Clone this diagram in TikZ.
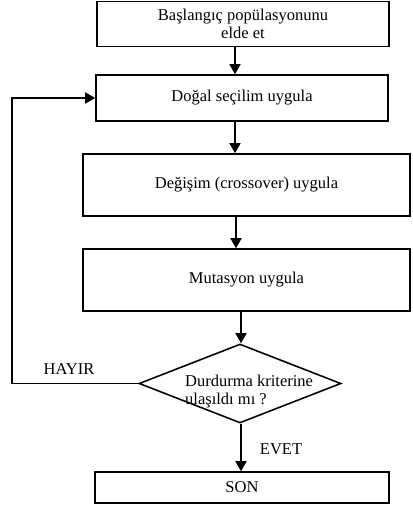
\documentclass[tikz,border=0pt]{standalone}
\usepackage{fontspec}
\setmainfont{Liberation Serif}
\usetikzlibrary{shapes.geometric,arrows.meta}
\begin{document}
\begin{tikzpicture}[x=1pt,y=-1pt,
  every node/.style={font=\fontsize{16.5}{18}\selectfont},
  box/.style={draw=black,line width=1.6pt,inner sep=0pt,align=center},
  arr/.style={draw=black,line width=1.6pt,-{Triangle[width=11pt,length=10pt]}},
  lbl/.style={inner sep=0pt}]
\useasboundingbox (0,0) rectangle (412,508);
\node[box,minimum width=292pt,minimum height=45pt] (b1) at (243,24) {Başlangıç popülasyonunu\\elde et};
\node[box,minimum width=292pt,minimum height=46pt] (b2) at (242,98) {Doğal seçilim uygula};
\node[box,minimum width=327pt,minimum height=62pt] (b3) at (246.5,185) {Değişim (crossover) uygula};
\node[box,minimum width=327pt,minimum height=62pt] (b4) at (246.5,280) {Mutasyon uygula};
\node[draw=black,line width=1.6pt,diamond,inner sep=0pt,minimum width=202pt,minimum height=79pt] (dia) at (240,383.5) {};
\node[lbl,align=left,anchor=west] (dt) at (185,391.5) {Durdurma kriterine\\ulaşıldı mı ?};
\node[box,minimum width=294pt,minimum height=31pt] (son) at (242,487.5) {SON};
\node[lbl] (hayir) at (69,369) {HAYIR};
\node[lbl] (evet) at (281,449) {EVET};
\coordinate (a1) at (235,0);
\coordinate (a2) at (236,0);
\coordinate (a3) at (241,0);
\coordinate (lp) at (12,0);
\draw[arr] (b1.south -| a1) -- (b2.north -| a1);
\draw[arr] (b2.south -| a1) -- (b3.north -| a1);
\draw[arr] (b3.south -| a2) -- (b4.north -| a2);
\draw[arr] (b4.south -| a3) -- (dia.north -| a3);
\draw[arr] (dia.south -| a3) -- (son.north -| a3);
\draw[arr] (dia.west) -- (dia.west -| lp) |- (b2.west);
\end{tikzpicture}
\end{document}
